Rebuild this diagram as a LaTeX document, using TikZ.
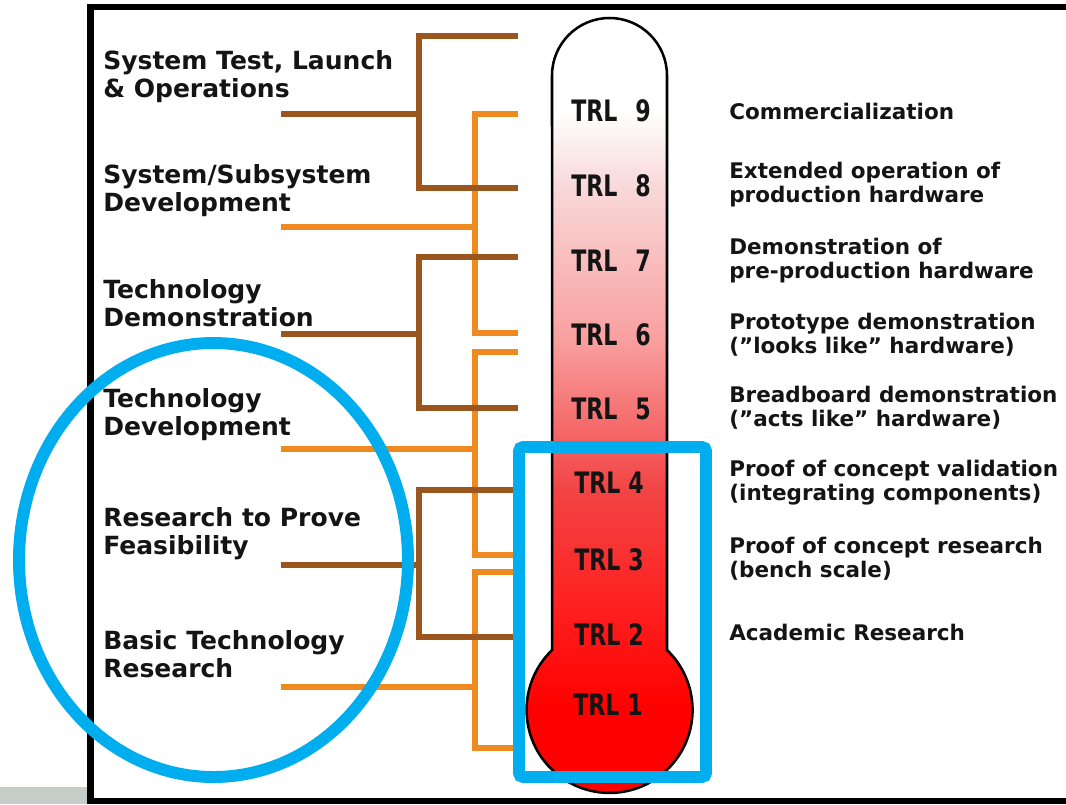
\documentclass[tikz,border=0pt]{standalone}
\usepackage{fontspec}
\newfontfamily\lblfont{DejaVu Sans}
\definecolor{ink}{HTML}{141414}
\definecolor{rustline}{HTML}{9B561D}
\definecolor{amberline}{HTML}{EE8A20}
\definecolor{markblue}{HTML}{00AEEF}
\definecolor{barfill}{HTML}{C6CDC9}
\definecolor{hot}{HTML}{FF0000}
\definecolor{hotsoft}{HTML}{FF2020}
\definecolor{warm}{HTML}{F24444}
\definecolor{salmon}{HTML}{F9A0A0}
\definecolor{blush}{HTML}{F9D8D8}
\pgfdeclareverticalshading{mercury}{100bp}{color(0bp)=(hot); color(31bp)=(hot); color(37.5bp)=(hotsoft);
  color(44.9bp)=(warm); color(54.6bp)=(salmon); color(64.2bp)=(blush); color(69.1bp)=(white); color(100bp)=(white)}

\begin{document}
\begin{tikzpicture}[x=0.025cm, y=-0.025cm,
  stage/.style={anchor=west, align=left, inner sep=0pt, text=ink, font=\lblfont\bfseries\fontsize{17.8}{19.9}\selectfont},
  desc/.style={anchor=west, align=left, inner sep=0pt, text=ink, font=\lblfont\bfseries\fontsize{15.3}{17.1}\selectfont},
  trl/.style={inner sep=0pt, text=ink, font=\lblfont\bfseries\fontsize{21}{24}\selectfont},
  rust/.style={draw=rustline, line width=4.6pt},
  amber/.style={draw=amberline, line width=4.6pt},
  hilite/.style={draw=markblue, line width=8.5pt},
]
\useasboundingbox (0,0) rectangle (1066,804);
\clip (0,0) rectangle (1066,804);

% page frame and the grey strip below left
\fill[barfill] (0,787) rectangle (88,804);
\draw[black, line width=4.4pt] (90.5,7) rectangle (1090,801);

% thermometer
\path[shading=mercury, draw=black, line width=1.8pt]
  (552,75.5) arc[start angle=180, end angle=360, radius=57.5] -- (667,650)
  arc[start angle=-46.2, end angle=226.2, radius=83] -- cycle;

\node[trl] (trl9) at (611,111) {\scalebox{0.75}[1]{TRL\hspace{0.8em}9}};
\node[trl] (trl8) at (611,186) {\scalebox{0.75}[1]{TRL\hspace{0.8em}8}};
\node[trl] (trl7) at (611,261) {\scalebox{0.75}[1]{TRL\hspace{0.8em}7}};
\node[trl] (trl6) at (611,335) {\scalebox{0.75}[1]{TRL\hspace{0.8em}6}};
\node[trl] (trl5) at (611,409) {\scalebox{0.75}[1]{TRL\hspace{0.8em}5}};
\node[trl] (trl4) at (609,483) {\scalebox{0.75}[1]{TRL 4}};
\node[trl] (trl3) at (609,560) {\scalebox{0.75}[1]{TRL 3}};
\node[trl] (trl2) at (609,635) {\scalebox{0.75}[1]{TRL 2}};
\node[trl] (trl1) at (608,705) {\scalebox{0.75}[1]{TRL 1}};

% stages on the left
\node[stage] (ops)   at (103,77)  {System Test, Launch\\\& Operations};
\node[stage] (sys)   at (103,191) {System/Subsystem\\Development};
\node[stage] (demo)  at (103,303) {Technology\\Demonstration};
\node[stage] (dev)   at (103,415) {Technology\\Development};
\node[stage] (feas)  at (103,534) {Research to Prove\\Feasibility};
\node[stage] (basic) at (103,654) {Basic Technology\\Research};

% what each level means
\node[desc] (c9) at (729,111) {Commercialization};
\node[desc] (c8) at (729,185) {Extended operation of\\production hardware};
\node[desc] (c7) at (729,261) {Demonstration of\\pre-production hardware};
\node[desc] (c6) at (729,335) {Prototype demonstration\\(”looks like” hardware)};
\node[desc] (c5) at (729,408) {Breadboard demonstration\\(”acts like” hardware)};
\node[desc] (c4) at (729,483) {Proof of concept validation\\(integrating components)};
\node[desc] (c3) at (729,559) {Proof of concept research\\(bench scale)};
\node[desc] (c2) at (729,632) {Academic Research};

% bracket ends
\coordinate (spineR) at (419,0);
\coordinate (spineA) at (475,0);
\coordinate (ops-t) at (281,114);  \coordinate (ops-a) at (518,36);   \coordinate (ops-b) at (518,188);
\coordinate (sys-t) at (281,227);  \coordinate (sys-a) at (518,114);  \coordinate (sys-b) at (518,333);
\coordinate (demo-t) at (281,334); \coordinate (demo-a) at (518,257); \coordinate (demo-b) at (518,408);
\coordinate (dev-t) at (281,449);  \coordinate (dev-a) at (518,352);  \coordinate (dev-b) at (518,555);
\coordinate (feas-t) at (281,565); \coordinate (feas-a) at (518,490); \coordinate (feas-b) at (518,637);
\coordinate (basic-t) at (281,687);\coordinate (basic-a) at (518,572);\coordinate (basic-b) at (518,748);

\draw[amber] (sys-a) -- (sys-a -| spineA) -- (sys-b -| spineA) -- (sys-b);
\draw[amber] (sys-t) -- (sys-t -| spineA);
\draw[amber] (dev-a) -- (dev-a -| spineA) -- (dev-b -| spineA) -- (dev-b);
\draw[amber] (dev-t) -- (dev-t -| spineA);
\draw[amber] (basic-a) -- (basic-a -| spineA) -- (basic-b -| spineA) -- (basic-b);
\draw[amber] (basic-t) -- (basic-t -| spineA);

\draw[rust] (ops-a) -- (ops-a -| spineR) -- (ops-b -| spineR) -- (ops-b);
\draw[rust] (ops-t) -- (ops-t -| spineR);
\draw[rust] (demo-a) -- (demo-a -| spineR) -- (demo-b -| spineR) -- (demo-b);
\draw[rust] (demo-t) -- (demo-t -| spineR);
\draw[rust] (feas-a) -- (feas-a -| spineR) -- (feas-b -| spineR) -- (feas-b);
\draw[rust] (feas-t) -- (feas-t -| spineR);

% highlights
\draw[hilite, rounded corners=3pt] (519,447) rectangle (706,777);
\draw[hilite] (213.5,560) ellipse[x radius=194.5, y radius=217];
\end{tikzpicture}
\end{document}
